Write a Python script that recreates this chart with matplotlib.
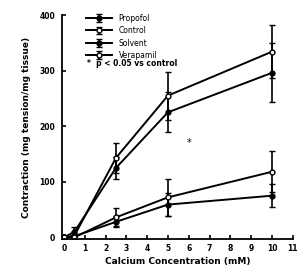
import matplotlib
matplotlib.use("Agg")
import matplotlib.pyplot as plt

# calcium concentration (mM)
conc = [0, 0.5, 2.5, 5, 10]

control = [0, 3, 143, 255, 334]
control_err = [0, 4, 27, 43, 48]
solvent = [0, 10, 125, 225, 296]
solvent_err = [0, 8, 20, 36, 53]
propofol = [0, 2, 28, 59, 75]
propofol_err = [0, 3, 10, 20, 21]
verapamil = [0, 0, 36, 72, 118]
verapamil_err = [0, 2, 16, 33, 37]

plt.rcParams['font.family'] = 'DejaVu Sans'
fig = plt.figure(figsize=(2.99, 2.68), dpi=100)
ax = fig.add_axes([0.207, 0.108, 0.772, 0.836])

kw = dict(color='black', lw=1.4, capsize=2, elinewidth=1.2, capthick=1.0, ms=3.5)
ax.errorbar(conc, propofol, yerr=propofol_err, marker='o', mfc='black', label='Propofol', **kw)
ax.errorbar(conc, control, yerr=control_err, marker='o', mfc='white', label='Control', **kw)
ax.errorbar(conc, solvent, yerr=solvent_err, marker='o', mfc='black', label='Solvent', **kw)
ax.errorbar(conc, verapamil, yerr=verapamil_err, marker='o', mfc='white', label='Verapamil', **kw)

ax.text(6.0, 170, '*', fontsize=7, ha='center', va='center')

ax.set_xlim(-0.1, 11)
ax.set_ylim(-3, 400)
ax.set_xticks(range(0, 12))
ax.set_yticks([0, 100, 200, 300, 400])
ax.tick_params(direction='in', length=3, width=1.2, labelsize=5.5)
ax.tick_params(axis='y', pad=5)
for t in ax.get_xticklabels() + ax.get_yticklabels():
    t.set_fontweight('bold')
ax.spines['top'].set_visible(False)
ax.spines['right'].set_visible(False)
ax.spines['left'].set_linewidth(1.3)
ax.spines['bottom'].set_linewidth(1.3)

ax.set_xlabel('Calcium Concentration (mM)', fontsize=6.5, fontweight='bold', labelpad=3)
ax.set_ylabel('Contraction (mg tension/mg tissue)', fontsize=6.5, fontweight='bold', labelpad=6)

leg = ax.legend(loc='upper left', bbox_to_anchor=(0.08, 1.03), frameon=False,
                fontsize=5.5, handlelength=3.5, labelspacing=0.45, borderpad=0.2)
ax.text(0.11, 0.805, '*  p < 0.05 vs control', transform=ax.transAxes,
        fontsize=5.5, fontweight='bold', va='top')

fig.savefig('out.png', dpi=100)
